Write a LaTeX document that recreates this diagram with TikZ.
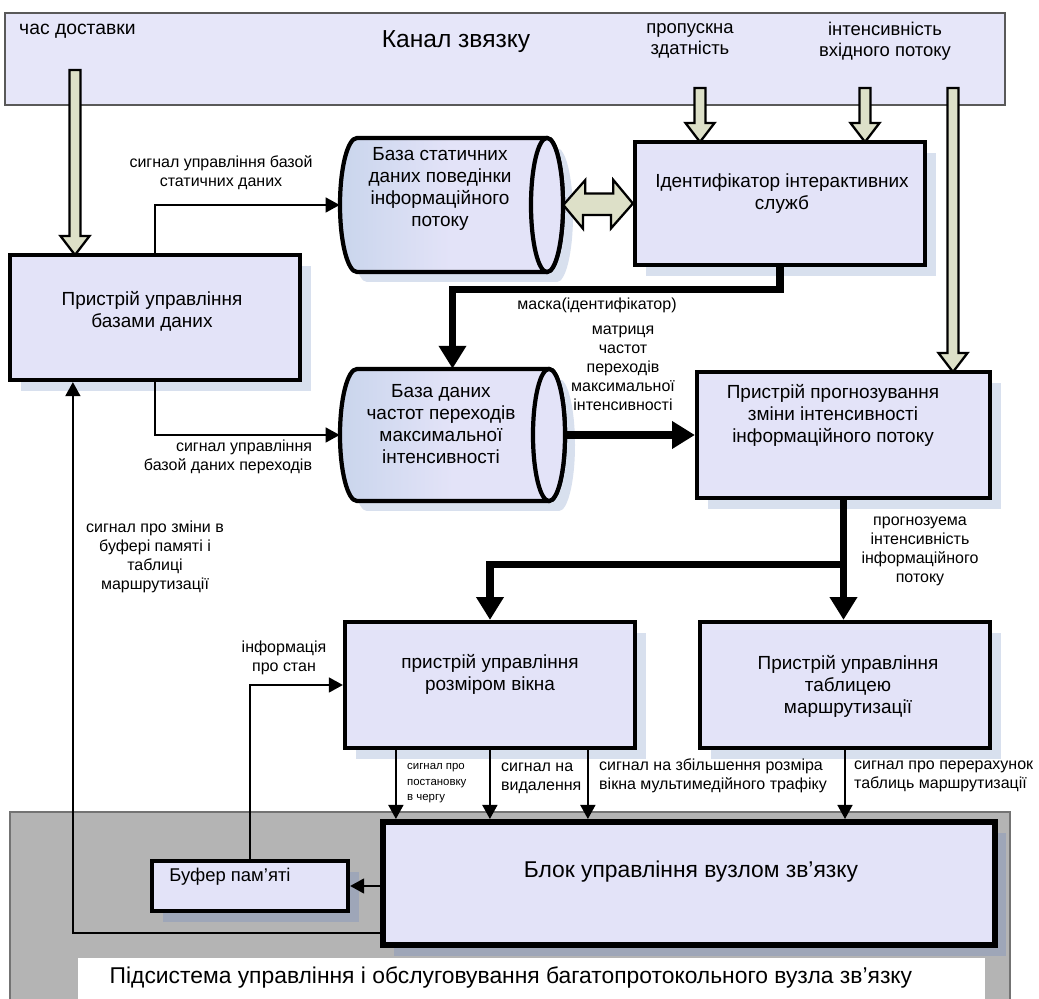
\documentclass[tikz,border=0pt]{standalone}
\usepackage{fontspec}
\setmainfont{Liberation Sans}
\usetikzlibrary{arrows.meta,calc,shadows}
\definecolor{boxfill}{HTML}{E3E3F8}
\definecolor{topfill}{HTML}{E6E6F9}
\definecolor{harrowc}{HTML}{DDE0C8}
\definecolor{grayreg}{HTML}{B4B4B4}
\definecolor{shadowc}{HTML}{D8E0EE}
\definecolor{shadowd}{HTML}{9EA6B8}
\definecolor{cylL}{HTML}{C9D5EC}
\newcommand\pxu{0.02cm}
\newcommand\varrowshape[3]{%
  \draw[harrow] (#1-5.5,#2) -- (#1+5.5,#2) -- (#1+5.5,#3-19) -- (#1+14.5,#3-19) -- (#1,#3) -- (#1-14.5,#3-19) -- (#1-5.5,#3-19) -- cycle;}
\newcommand\cylshape[4]{% left x, top y, bottom y, right centre x
  \pgfmathsetmacro\cyry{(#3-#2)/2}%
  \pgfmathsetmacro\cycy{(#3+#2)/2}%
  \fill[shadowc] (#1+27,#2+10) -- (#4+10,#2+10) arc[start angle=-90,end angle=90,x radius=16,y radius=\cyry] -- (#1+27,#3+10) arc[start angle=90,end angle=270,x radius=17,y radius=\cyry] -- cycle;
  \draw[line width=2.4pt, left color=cylL, right color=boxfill, middle color=boxfill] (#1+17,#2) -- (#4,#2) arc[start angle=-90,end angle=90,x radius=16,y radius=\cyry] -- (#1+17,#3) arc[start angle=90,end angle=270,x radius=17,y radius=\cyry] -- cycle;
  \draw[line width=2.4pt, fill=boxfill] (#4,\cycy) ellipse[x radius=16, y radius=\cyry];}
\begin{document}
\begin{tikzpicture}[x=0.02cm,y=-0.02cm,
  sz/.style 2 args={minimum width=#1*\pxu, minimum height=#2*\pxu, inner sep=0pt},
  box/.style={draw, line width=2.4pt, fill=boxfill, general shadow={fill=#1, shadow xshift=6pt, shadow yshift=-6pt}},
  box/.default=shadowc,
  topbar/.style={draw=black!65, line width=1.2pt, fill=topfill},
  harrow/.style={fill=harrowc, draw=black, line width=1.3pt, line join=miter},
  sig/.style={draw, line width=1.1pt, -{Triangle[length=8pt,width=8.5pt]}},
  big/.style={draw, line width=4pt, line join=miter, -{Triangle[length=13pt,width=15pt]}},
  btxt/.style={align=center, font=\fontsize{10.8}{12.5}\selectfont},
  lbl/.style={font=\fontsize{9.1}{10.8}\selectfont},
  tiny/.style={font=\fontsize{6.5}{9}\selectfont},
  ghost/.style={inner sep=0pt}]
\useasboundingbox (0,0) rectangle (1039,999);
\fill[white] (0,0) rectangle (1039,999);
% bottom gray subsystem region
\fill[grayreg] (10,812) rectangle (1010,999);
\draw[black!55, line width=1.2pt] (10,999) -- (10,812) -- (1010,812) -- (1010,999);
\node[fill=white, sz={907}{41}, anchor=north west] (sublbl) at (78,958) {};
\node[font=\fontsize{13}{15}\selectfont] (tsub) at (511,977) {Підсистема управління і обслуговування багатопротокольного вузла зв'язку};
% top channel bar
\node[topbar, sz={1000}{92}] (chan) at (505,59) {};
\node[font=\fontsize{11}{13}\selectfont, anchor=west] (tdel) at (13,31) {час доставки};
\node[font=\fontsize{14}{16}\selectfont] (tkz) at (456,42) {Канал звязку};
\node[align=center, font=\fontsize{10.5}{12}\selectfont] (tbw) at (690,41) {пропускна\\здатність};
\node[align=center, font=\fontsize{10.5}{12}\selectfont] (tint) at (885,41) {інтенсивність\\вхідного потоку};
% boxes
\node[box, sz={290}{125}] (dbm) at (155,317.5) {};
\node[box, sz={290}{123}] (ident) at (780,203.5) {};
\node[box, sz={293}{126}] (progn) at (843.5,435) {};
\node[box, sz={290}{126}] (win) at (490,685) {};
\node[box, sz={290}{126}] (route) at (845,685) {};
\node[box=shadowd, line width=3.4pt, sz={612}{123}] (blk) at (689,883.5) {};
\node[box=shadowd, sz={196}{50}] (buf) at (250,886) {};
% cylinders
\cylshape{340}{138}{272}{547}
\node[ghost, sz={223}{134}] (db1) at (451.5,205) {};
\cylshape{340}{369}{501}{549}
\node[ghost, sz={225}{132}] (db2) at (452.5,435) {};
% hollow block arrows
\varrowshape{75}{70}{255}
\varrowshape{700}{88}{142}
\varrowshape{865}{88}{142}
\varrowshape{953}{88}{372}
\draw[harrow] (db1.east) -- ++(22,-25) -- ++(0,13.5) -- ++(28,0) -- ++(0,-13.5) -- (ident.west) -- ++(-22,25) -- ++(0,-13.5) -- ++(-28,0) -- ++(0,13.5) -- cycle;
% box texts
\node[btxt] (tdbm) at (152,311) {Пристрій управління\\базами даних};
\node[btxt] (tdb1) at (440,189) {База статичних\\даних поведінки\\інформаційного\\потоку};
\node[btxt] (tident) at (782,194) {Ідентифікатор інтерактивних\\служб};
\node[btxt] (tdb2) at (441,424) {База даних\\частот переходів\\максимальної\\інтенсивності};
\node[btxt] (tprogn) at (833,415) {Пристрій прогнозування\\зміни інтенсивності\\інформаційного потоку};
\node[btxt] (twin) at (490,674) {пристрій управління\\розміром вікна};
\node[btxt] (troute) at (848,686) {Пристрій управління\\таблицею\\маршрутизації};
\node[font=\fontsize{13}{15}\selectfont] (tblk) at (691,872) {Блок управління вузлом зв'язку};
\node[font=\fontsize{10.5}{12}\selectfont] (tbuf) at (230,877) {Буфер пам'яті};
% connectors
\draw[sig] (dbm.north) |- (db1.west);
\draw[sig] (dbm.south) |- (db2.west);
\draw[big] (ident.south) |- ($(db2.north)+(0,-79)$) -- (db2.north);
\draw[big] (db2.east) -- (progn.west);
\draw[big] (progn.south) -- (progn.south |- route.north);
\draw[big] ($(progn.south)+(0,64)$) -| (win.north);
\coordinate (w1) at ($(win.south west)+(53,0)$);
\coordinate (w2) at ($(win.south west)+(147,0)$);
\coordinate (w3) at ($(win.south west)+(245,0)$);
\draw[sig] (w1) -- (w1 |- blk.north);
\draw[sig] (w2) -- (w2 |- blk.north);
\draw[sig] (w3) -- (w3 |- blk.north);
\draw[sig] (route.south) -- (route.south |- blk.north);
\draw[sig] (blk.west |- buf.east) -- (buf.east);
\draw[sig] (buf.north) |- (win.west);
\draw[sig] ($(blk.south west)+(0,-15)$) -| ($(dbm.south west)+(65,0)$);
% connector labels
\node[lbl, align=center] (l1) at (221,173) {сигнал управління базой\\статичних даних};
\node[lbl, align=right] (l2) at (228,457) {сигнал управління\\базой даних переходів};
\node[lbl] (l3) at (597,305) {маска(ідентифікатор)};
\node[lbl, align=center] (l4) at (623,368) {матриця\\частот\\переходів\\максимальної\\інтенсивності};
\node[lbl, align=center] (l5) at (920,551) {прогнозуема\\інтенсивність\\інформаційного\\потоку};
\node[lbl, align=center] (l6) at (155,557) {сигнал про зміни в\\буфері памяті і\\таблиці\\ маршрутизації};
\node[lbl, align=center] (l7) at (284,658) {інформація\\про стан};
\node[tiny, align=left, anchor=north west] (l8) at (401,757) {сигнал про\\постановку\\в чергу};
\node[lbl, align=left, anchor=west] (l9) at (495,778) {сигнал на\\видалення};
\node[lbl, align=left, anchor=west] (l10) at (593,776) {сигнал на збільшення розміра\\вікна мультимедійного трафіку};
\node[lbl, align=left, anchor=west] (l11) at (848,776) {сигнал про перерахунок\\таблиць маршрутизації};
\end{tikzpicture}
\end{document}
